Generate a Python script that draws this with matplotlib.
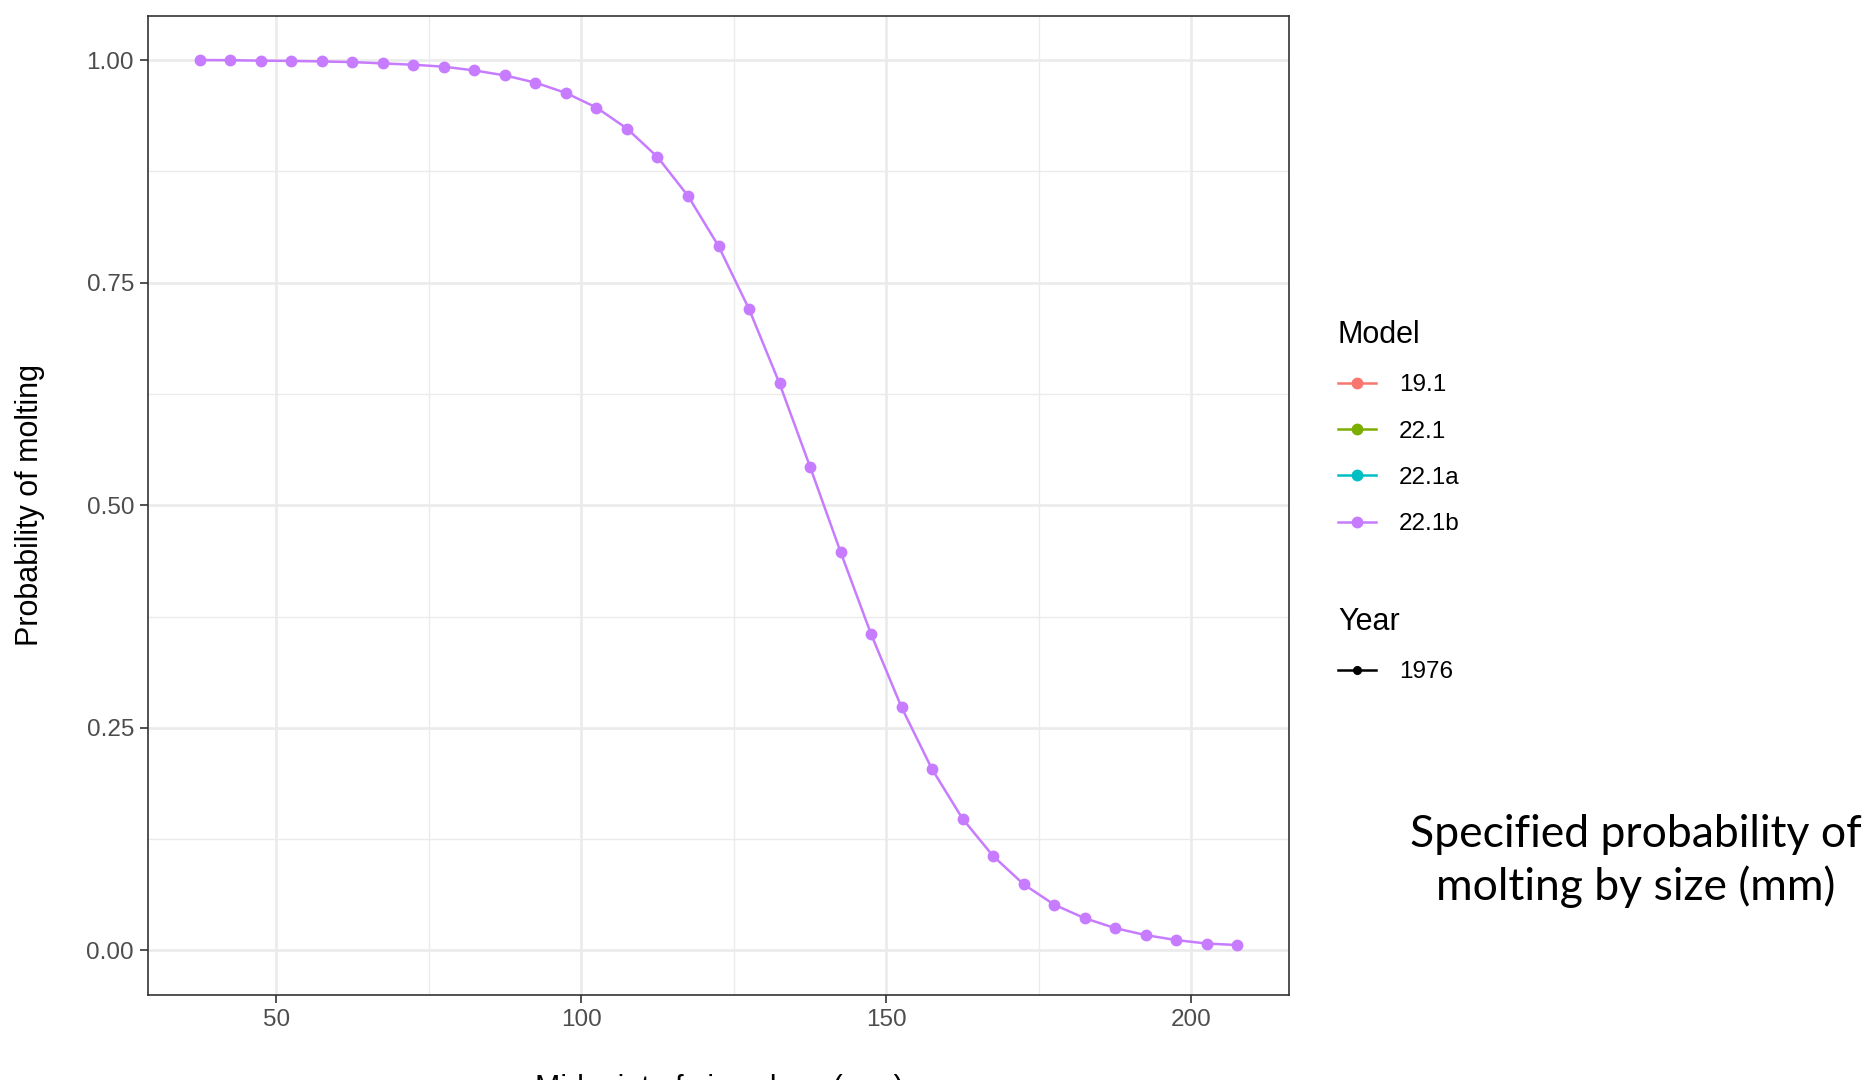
import matplotlib
matplotlib.use("Agg")
import matplotlib.pyplot as plt
from matplotlib.lines import Line2D

# molt probability by size class midpoint (model 22.1b, 1976)
size_mid = [37.5, 42.5, 47.5, 52.5, 57.5, 62.5, 67.5, 72.5, 77.5, 82.5,
            87.5, 92.5, 97.5, 102.5, 107.5, 112.5, 117.5, 122.5, 127.5, 132.5,
            137.5, 142.5, 147.5, 152.5, 157.5, 162.5, 167.5, 172.5, 177.5, 182.5,
            187.5, 192.5, 197.5, 202.5, 207.5]
p_molt = [1.000, 0.9998, 0.9993, 0.9990, 0.9984, 0.9977, 0.9962, 0.9947, 0.9925, 0.9883,
          0.9827, 0.9746, 0.9630, 0.9466, 0.9230, 0.8911, 0.8474, 0.7911, 0.7204, 0.6368,
          0.5433, 0.4477, 0.3554, 0.2731, 0.2036, 0.1479, 0.1061, 0.0744, 0.0515, 0.0363,
          0.0251, 0.0173, 0.0117, 0.0078, 0.0061]

models = ["19.1", "22.1", "22.1a", "22.1b"]
model_colors = ["#F8766D", "#7CAE00", "#00BFC4", "#C77CFF"]
years = ["1976"]

x_ticks = [50, 100, 150, 200]
x_minor = [75, 125, 175]
y_ticks = [0.0, 0.25, 0.5, 0.75, 1.0]
y_minor = [0.125, 0.375, 0.625, 0.875]

W, H = 1872, 1080
plt.rcParams["font.family"] = ["Liberation Sans", "DejaVu Sans"]

fig = plt.figure(figsize=(W / 100, H / 100), dpi=100)
ax = fig.add_axes([148 / W, 1 - 995 / H, (1289 - 148) / W, (995 - 15.5) / H])

# ggplot-style limits: 5% padding on the data range
xr = max(size_mid) - min(size_mid)
ax.set_xlim(min(size_mid) - 0.05 * xr, max(size_mid) + 0.05 * xr)
ax.set_ylim(-0.05, 1.05)

for v in x_minor:
    ax.axvline(v, color="#EBEBEB", lw=1.0, zorder=0)
for v in y_minor:
    ax.axhline(v, color="#EBEBEB", lw=1.0, zorder=0)
for v in x_ticks:
    ax.axvline(v, color="#EBEBEB", lw=1.9, zorder=0)
for v in y_ticks:
    ax.axhline(v, color="#EBEBEB", lw=1.9, zorder=0)

ax.plot(size_mid, p_molt, color=model_colors[3], lw=1.8,
        marker="o", markersize=7.5, zorder=3)

ax.set_xticks(x_ticks)
ax.set_xticklabels([str(v) for v in x_ticks])
ax.set_yticks(y_ticks)
ax.set_yticklabels(["%.2f" % v for v in y_ticks])
ax.tick_params(length=6, width=1.2, color="#333333", labelcolor="#4D4D4D",
               labelsize=17.5, pad=4)
for s in ax.spines.values():
    s.set_color("#333333")
    s.set_linewidth(1.2)

fig.text(30 / W, 1 - 505 / H, "Probability of molting", rotation=90,
         ha="center", va="center", fontsize=22)
fig.text(719 / W, 1 - 1074 / H, "Midpoint of size class (mm)",
         ha="center", va="top", fontsize=22)

legend_kw = dict(loc="upper left", frameon=False, fontsize=17.5,
                 title_fontsize=22, alignment="left", handlelength=1.55,
                 handletextpad=0.95, labelspacing=1.0, borderpad=0,
                 borderaxespad=0)

model_handles = [Line2D([], [], color=c, lw=1.8, marker="o", markersize=7.5)
                 for c in model_colors]
fig.legend(model_handles, models, title="Model",
           bbox_to_anchor=(1338 / W, 1 - 320 / H), **legend_kw)

year_handles = [Line2D([], [], color="black", lw=1.8, marker="o", markersize=5.5)]
fig.legend(year_handles, years, title="Year",
           bbox_to_anchor=(1338 / W, 1 - 607 / H), **legend_kw)

fig.text(1636 / W, 1 - 861 / H, "Specified probability of\nmolting by size (mm)",
         ha="center", va="center", fontsize=32, family="Lato",
         linespacing=1.3)

fig.savefig("out.png", dpi=100)
